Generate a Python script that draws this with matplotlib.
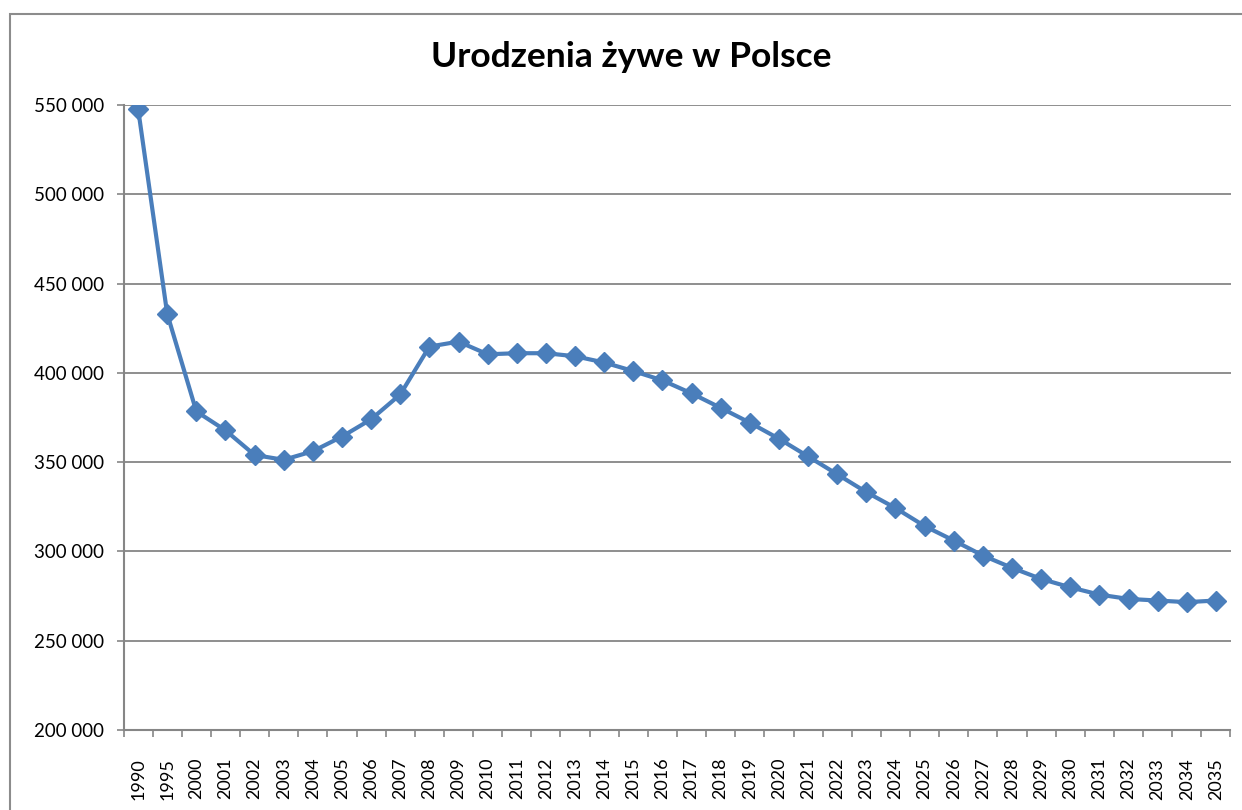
import numpy as np
import matplotlib.pyplot as plt
from matplotlib.ticker import FuncFormatter, FixedLocator
from matplotlib.patches import Rectangle

# DATA
years = ["1990", "1995"] + [str(y) for y in range(2000, 2036)]
births = [548000, 433100, 378400, 367800, 354000, 351300, 356100, 364300, 374000, 387900,
          414700, 417500, 410400, 411000, 411000, 409300, 405800, 401000, 395800, 388500,
          380400, 372100, 363100, 353200, 343200, 333200, 324300, 314200, 306100, 297700,
          290800, 284600, 279900, 275800, 273400, 272500, 271600, 272500]
y_ticks = [200000, 250000, 300000, 350000, 400000, 450000, 500000, 550000]

# STYLE
BLUE = "#4a7ebb"
GREY = "#868686"
plt.rcParams["font.family"] = ["Lato", "DejaVu Sans"]

fig = plt.figure(figsize=(12.42, 8.10), dpi=100)
W, H = 1242, 810
ax = fig.add_axes([123.5 / W, (H - 730) / H, (1230.5 - 123.5) / W, (730 - 105) / H])

x = np.arange(len(years))
ax.plot(x, births, color=BLUE, linewidth=3, marker="D", markersize=10,
        markerfacecolor=BLUE, markeredgecolor=BLUE, zorder=3)

ax.set_xlim(-0.5, len(years) - 0.5)
ax.set_ylim(200000, 550000)
ax.set_yticks(y_ticks)
ax.yaxis.set_major_formatter(FuncFormatter(lambda v, _: f"{v:,.0f}".replace(",", " ")))
ax.set_xticks(x)
ax.set_xticklabels(years, rotation=90, fontsize=13)
ax.xaxis.set_minor_locator(FixedLocator(np.arange(len(years) + 1) - 0.5))

ax.tick_params(axis="x", which="major", length=0, pad=20)
ax.tick_params(axis="x", which="minor", length=5, width=1.2, color=GREY)
ax.tick_params(axis="y", length=5, width=1.2, color=GREY, pad=9, labelsize=13.5)

ax.grid(axis="y", color=GREY, linewidth=1.3)
ax.set_axisbelow(True)
for side in ["top", "right"]:
    ax.spines[side].set_visible(False)
for side in ["left", "bottom"]:
    ax.spines[side].set_color(GREY)
    ax.spines[side].set_linewidth(1.5)

fig.text(631 / W, 1 - 57 / H, "Urodzenia żywe w Polsce", ha="center", va="center",
         fontsize=25.5, fontweight="bold")

# chart area border
fig.patches.append(Rectangle((10 / W, -0.02), 1.05, 1.02 - 14 / H, transform=fig.transFigure,
                             fill=False, edgecolor="#8c8c8c", linewidth=1.5))

fig.savefig("out.png", dpi=100)
